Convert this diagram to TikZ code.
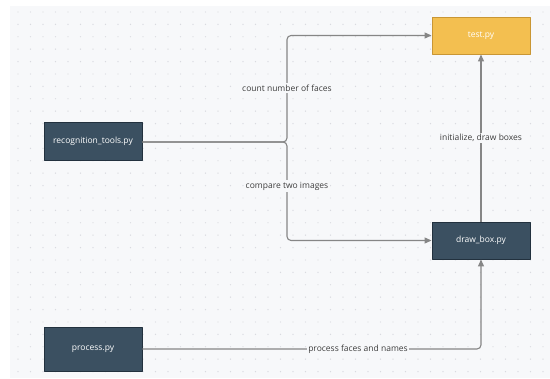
\documentclass[tikz,border=0pt]{standalone}
\usepackage{fontspec}
\setmainfont{Open Sans}
\usetikzlibrary{arrows.meta}
\definecolor{bgpanel}{HTML}{F7F8FA}
\definecolor{griddot}{HTML}{D9DAE0}
\definecolor{modfill}{HTML}{3B5061}
\definecolor{moddraw}{HTML}{22313E}
\definecolor{testfill}{HTML}{F3BF50}
\definecolor{testdraw}{HTML}{C99634}
\definecolor{flowgray}{HTML}{868686}
\definecolor{lbltext}{HTML}{3C3C3C}
\begin{document}
\begin{tikzpicture}[x=1pt,y=-1pt,>={Triangle[width=6pt,length=7pt]},line join=round,font=\fontsize{8.5}{10}\selectfont,
  module/.style={draw=moddraw,fill=modfill,text=white,line width=0.9pt,minimum width=98pt,inner sep=0pt},
  flow/.style={->,draw=flowgray,line width=1.1pt,rounded corners=4pt},
  lbl/.style={fill=bgpanel,text=lbltext,inner sep=1.5pt}]
\useasboundingbox (0,0) rectangle (550,379);
\fill[white] (0,0) rectangle (550,379);
\fill[bgpanel] (10,6) rectangle (550,378);
\foreach \x in {18,30.5,...,545}{\foreach \y in {12,24.4,...,375}{\fill[griddot] (\x,\y) circle (0.7pt);}}
% modules
\node[module,fill=testfill,draw=testdraw,minimum height=37pt] (test) at (481,35.5) {test.py};
\node[module,minimum height=38pt] (rec) at (93,141) {recognition\_tools.py};
\node[module,minimum height=37pt] (box) at (481,240.5) {draw\_box.py};
\node[module,minimum height=44pt] (proc) at (93,349) {process.py};
\coordinate (fork) at (287,142);
% connectors
\draw[flow] (rec.east|-fork) -- (fork) |- (test.west);
\draw[flow] (rec.east|-fork) -- (fork) |- (box.west);
\draw[flow] (box.north) -- (test.south);
\draw[flow] (proc.east) -| (box.south);
\node[lbl] (lcount) at (287,88) {count number of faces};
\node[lbl] (lcomp) at (287,186) {compare two images};
\node[lbl] (linit) at (481,138) {initialize, draw boxes};
\node[lbl] (lproc) at (358,349) {process faces and names};
\end{tikzpicture}
\end{document}
